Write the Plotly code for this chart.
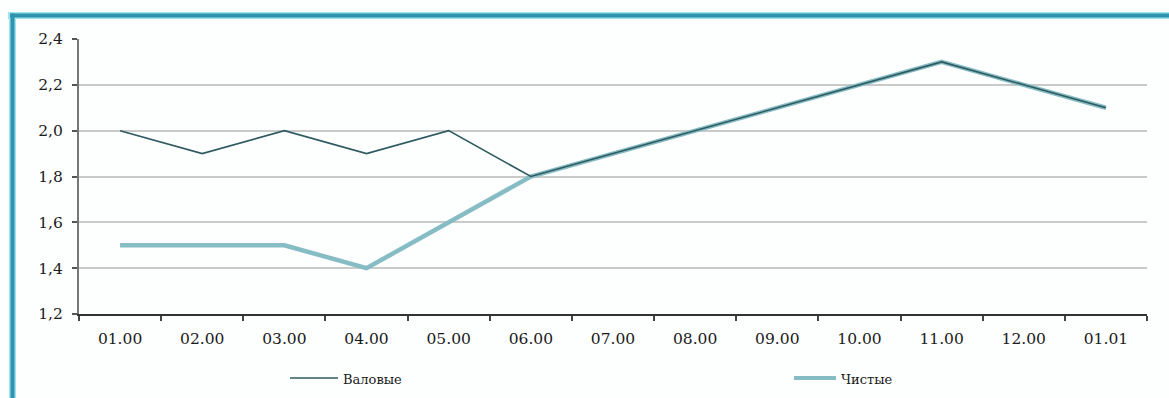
import plotly.graph_objects as go

categories = ["01.00", "02.00", "03.00", "04.00", "05.00", "06.00", "07.00",
              "08.00", "09.00", "10.00", "11.00", "12.00", "01.01"]
gross = [2.0, 1.9, 2.0, 1.9, 2.0, 1.8, 1.9, 2.0, 2.1, 2.2, 2.3, 2.2, 2.1]
net = [1.5, 1.5, 1.5, 1.4, 1.6, 1.8, 1.9, 2.0, 2.1, 2.2, 2.3, 2.2, 2.1]
y_ticks = [1.2, 1.4, 1.6, 1.8, 2.0, 2.2, 2.4]
series_names = ["Валовые", "Чистые"]

W, H = 1169, 398
L, R, T, B = 79, 22, 39, 84
pw, ph = W - L - R, H - T - B

GROSS_COLOR = "#2e5a60"
NET_COLOR = "#86bcc4"
TEXT_COLOR = "#1a1a1a"


def px_x(p):
    return (p - L) / pw


def px_y(p):
    return 1 - (p - T) / ph


fig = go.Figure()
fig.add_trace(go.Scatter(
    x=categories, y=net, name=series_names[1], mode="lines",
    line=dict(color=NET_COLOR, width=4.5),
))
fig.add_trace(go.Scatter(
    x=categories, y=gross, name=series_names[0], mode="lines",
    line=dict(color=GROSS_COLOR, width=1.6),
))

shapes = [
    # frame: top and left teal borders
    dict(type="line", xref="paper", yref="paper", x0=px_x(8), x1=px_x(1175),
         y0=px_y(15.5), y1=px_y(15.5), line=dict(color="#9fe3ee", width=7)),
    dict(type="line", xref="paper", yref="paper", x0=px_x(12.5), x1=px_x(12.5),
         y0=px_y(12), y1=px_y(405), line=dict(color="#9fe3ee", width=7)),
    dict(type="line", xref="paper", yref="paper", x0=px_x(10), x1=px_x(1175),
         y0=px_y(15.5), y1=px_y(15.5), line=dict(color="#2f93ad", width=4)),
    dict(type="line", xref="paper", yref="paper", x0=px_x(12.5), x1=px_x(12.5),
         y0=px_y(13.5), y1=px_y(405), line=dict(color="#2f93ad", width=4)),
    # legend samples
    dict(type="line", xref="paper", yref="paper", x0=px_x(290), x1=px_x(338),
         y0=px_y(378), y1=px_y(378), line=dict(color=GROSS_COLOR, width=1.6)),
    dict(type="line", xref="paper", yref="paper", x0=px_x(794), x1=px_x(836),
         y0=px_y(378), y1=px_y(378), line=dict(color=NET_COLOR, width=4)),
]

annotations = [
    dict(text=series_names[0], xref="paper", yref="paper", x=px_x(341), y=px_y(379),
         xanchor="left", yanchor="middle", showarrow=False,
         font=dict(family="DejaVu Serif", size=13, color=TEXT_COLOR)),
    dict(text=series_names[1], xref="paper", yref="paper", x=px_x(839), y=px_y(379),
         xanchor="left", yanchor="middle", showarrow=False,
         font=dict(family="DejaVu Serif", size=13, color=TEXT_COLOR)),
]

fig.update_layout(
    width=W, height=H,
    margin=dict(l=L, r=R, t=T, b=B),
    paper_bgcolor="#fdfefe", plot_bgcolor="#fdfefe",
    separators=",.",
    font=dict(family="DejaVu Serif", size=15, color=TEXT_COLOR),
    showlegend=False,
    shapes=shapes,
    annotations=annotations,
    xaxis=dict(
        type="category", range=[-0.5, 12.5],
        showgrid=False, showline=True, linecolor="#333", linewidth=2,
        ticks="outside", ticklen=5, tickcolor="#444", tickwidth=1.5,
        tickson="boundaries", ticklabelstandoff=9,
        tickfont=dict(family="DejaVu Serif", size=15.5, color=TEXT_COLOR),
        zeroline=False, automargin=False,
    ),
    yaxis=dict(
        range=[1.2, 2.4], tickvals=y_ticks, tickformat=".1f",
        showgrid=True, gridcolor="#cacaca", gridwidth=1.5,
        showline=True, linecolor="#777", linewidth=2,
        ticks="outside", ticklen=5, tickcolor="#555", tickwidth=1.5,
        ticklabelstandoff=6,
        tickfont=dict(family="DejaVu Serif", size=15.5, color=TEXT_COLOR),
        zeroline=False, automargin=False,
    ),
)

fig.write_html("out.html")
